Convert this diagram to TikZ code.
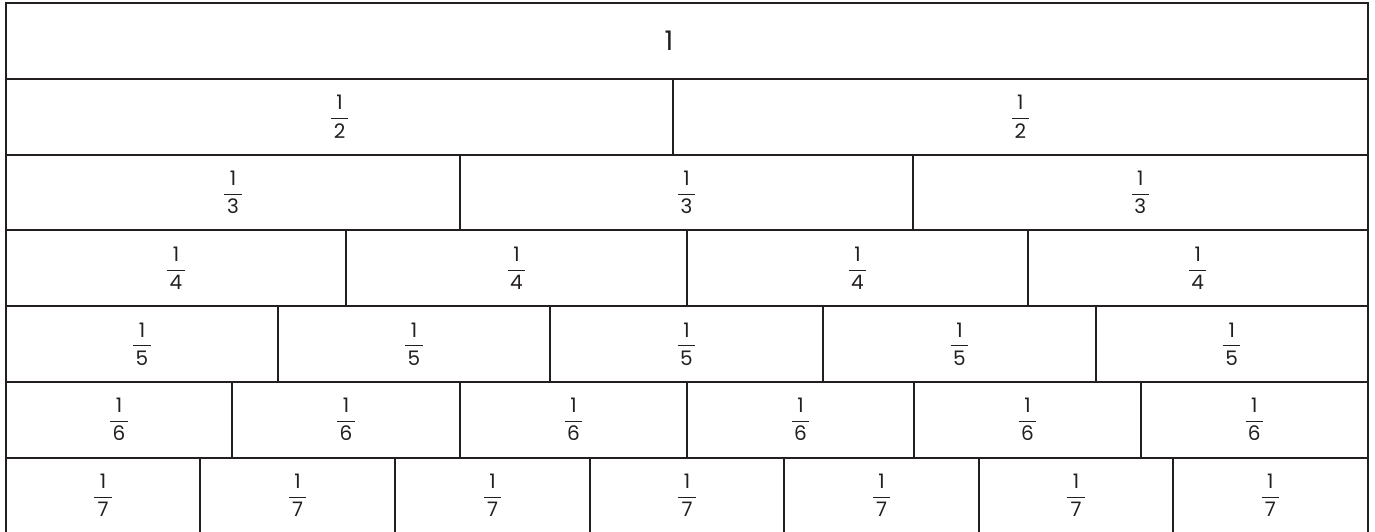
\documentclass[tikz,border=0pt]{standalone}
\usepackage{amsmath}
\usepackage{fontspec}
\setmainfont{Poppins}
\definecolor{ink}{HTML}{231F20}
\newcommand\myfr[1]{$\dfrac{\mbox{\hspace{5.5pt}1\hspace{5.5pt}}}{\mbox{#1}}$}
\tikzset{
  cell/.style={draw=ink, line width=2pt, inner sep=0pt, outer sep=0pt, text=ink,
    font=\fontsize{20}{24}\selectfont},
}
\begin{document}
\begin{tikzpicture}[x=1pt,y=-1pt]
\useasboundingbox[fill=white] (0,0) rectangle (1375,532);
\def\rh{75.7}
% row 1
\node[cell, minimum width=1361.5pt, minimum height=\rh pt] (r1c1) at (686.75,{3.3+\rh/2}) {};
\node[text=ink, inner sep=0pt, font=\fontsize{27}{32}\selectfont] (one) at (669,{3.3+\rh/2}) {1};
% row 2
\foreach \a/\b [count=\i] in {6/673,673/1367.5}
  \node[cell, minimum width={\b-\a}, minimum height=\rh pt] (r2c\i) at ({(\a+\b)/2},{3.3+1.5*\rh}) {\myfr{2}};
% row 3
\foreach \a/\b [count=\i] in {6/460,460/913,913/1367.5}
  \node[cell, minimum width={\b-\a}, minimum height=\rh pt] (r3c\i) at ({(\a+\b)/2},{3.3+2.5*\rh}) {\myfr{3}};
% row 4
\foreach \a/\b [count=\i] in {6/346,346/687,687/1028,1028/1367.5}
  \node[cell, minimum width={\b-\a}, minimum height=\rh pt] (r4c\i) at ({(\a+\b)/2},{3.3+3.5*\rh}) {\myfr{4}};
% row 5
\foreach \a/\b [count=\i] in {6/278,278/550,550/823,823/1096,1096/1367.5}
  \node[cell, minimum width={\b-\a}, minimum height=\rh pt] (r5c\i) at ({(\a+\b)/2},{3.3+4.5*\rh}) {\myfr{5}};
% row 6
\foreach \a/\b [count=\i] in {6/232,232/460,460/687,687/914,914/1141,1141/1367.5}
  \node[cell, minimum width={\b-\a}, minimum height=\rh pt] (r6c\i) at ({(\a+\b)/2},{3.3+5.5*\rh}) {\myfr{6}};
% row 7
\foreach \a/\b [count=\i] in {6/200,200/395,395/590,590/784,784/979,979/1173,1173/1367.5}
  \node[cell, minimum width={\b-\a}, minimum height=\rh pt] (r7c\i) at ({(\a+\b)/2},{3.3+6.5*\rh}) {\myfr{7}};
\end{tikzpicture}
\end{document}
